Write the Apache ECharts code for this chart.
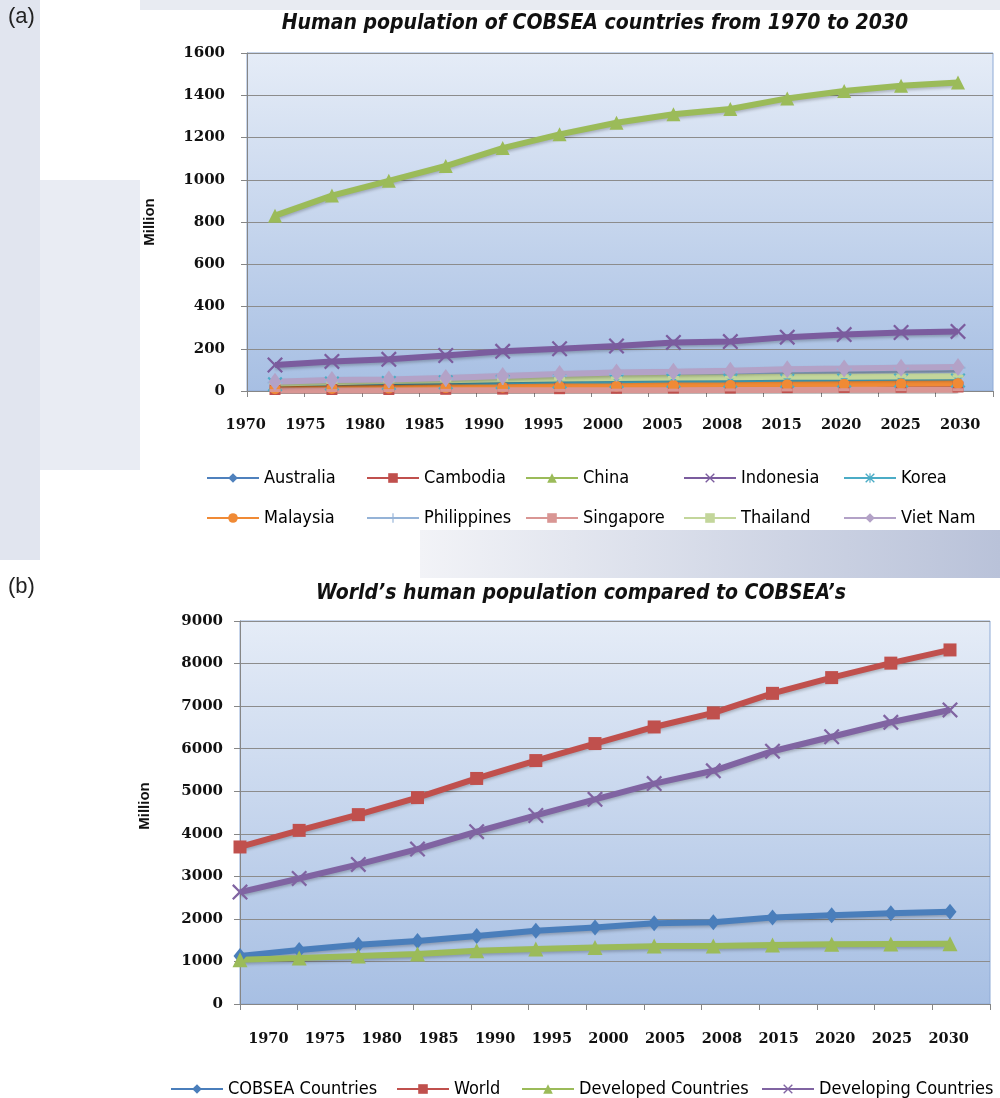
<!DOCTYPE html>
<html><head><meta charset="utf-8">
<script src="https://cdn.jsdelivr.net/npm/echarts@6/dist/echarts.min.js"></script>
<style>html,body{margin:0;padding:0;background:#fff}#c{width:1000px;height:1098px}</style>
</head><body><div id="c"></div>
<script>
// ---------- data ----------
const years = ['1970','1975','1980','1985','1990','1995','2000','2005','2008','2015','2020','2025','2030'];
const aTicks = [0,200,400,600,800,1000,1200,1400,1600];
const bTicks = [0,1000,2000,3000,4000,5000,6000,7000,8000,9000];

const australia   = [13, 14, 15, 16, 17, 18, 19, 20, 21, 24, 25, 27, 28];
const cambodia    = [7, 7, 7, 8, 9, 11, 13, 14, 14, 16, 17, 18, 19];
const china       = [830, 925, 995, 1065, 1150, 1215, 1270, 1310, 1335, 1385, 1420, 1445, 1460];
const indonesia   = [123, 140, 150, 168, 188, 200, 213, 230, 234, 255, 267, 277, 282];
const korea       = [32, 35, 38, 41, 43, 45, 47, 48, 48, 49, 50, 50, 50];
const malaysia    = [11, 12, 14, 16, 18, 21, 23, 26, 27, 30, 32, 34, 36];
const philippines = [40, 46, 50, 57, 64, 72, 80, 86, 90, 98, 103, 107, 110];
const singapore   = [2, 2, 2, 3, 3, 3, 4, 4, 5, 5, 6, 6, 6];
const thailand    = [36, 41, 47, 51, 56, 59, 62, 64, 65, 67, 68, 69, 70];
const vietnam     = [44, 52, 55, 62, 71, 80, 88, 91, 96, 103, 106, 110, 114];

const cobsea     = [1130, 1270, 1390, 1480, 1600, 1720, 1800, 1895, 1920, 2030, 2085, 2130, 2165];
const world      = [3690, 4080, 4450, 4850, 5300, 5720, 6120, 6510, 6840, 7300, 7670, 8010, 8320];
const developed  = [1040, 1080, 1130, 1175, 1250, 1290, 1330, 1360, 1365, 1385, 1405, 1410, 1415];
const developing = [2630, 2950, 3280, 3640, 4050, 4430, 4810, 5180, 5480, 5940, 6280, 6620, 6910];

// ---------- styling ----------
const NARROW = "'Liberation Sans Narrow','DejaVu Sans Condensed','Roboto Condensed',sans-serif";
const SERIF = "'DejaVu Serif',serif";
const SYM_X = 'path://M1,0L5,4L9,0L10,1L6,5L10,9L9,10L5,6L1,10L0,9L4,5L0,1Z';
const SYM_PLUS = 'path://M4.4,0H5.6V4.4H10V5.6H5.6V10H4.4V5.6H0V4.4H4.4Z';
const SYM_STAR = 'path://M1,0L5,4L9,0L10,1L6,5L10,9L9,10L5,6L1,10L0,9L4,5L0,1Z M4.4,0H5.6V10H4.4Z';

const plotBg = {type:'linear',x:0,y:0,x2:0,y2:1,colorStops:[{offset:0,color:'#e5ecf7'},{offset:1,color:'#a7bfe3'}]};

function frameAxisX(gi){return {type:'category',gridIndex:gi,data:years,boundaryGap:true,
  axisLine:{lineStyle:{color:'#868686',width:1}},axisTick:{show:true,length:6,lineStyle:{color:'#868686'}},
  axisLabel:{show:false},splitLine:{show:false}};}
function dataAxisX(gi){return {type:'category',gridIndex:gi,data:years,boundaryGap:false,show:false};}
function labelAxisX(gi,margin){return {type:'category',gridIndex:gi,data:years,boundaryGap:true,
  axisLine:{show:false},axisTick:{show:false},
  axisLabel:{show:true,margin:margin,fontFamily:SERIF,fontWeight:'bold',fontSize:14.5,color:'#111'},splitLine:{show:false}};}
function frameAxisY(gi,ticks,margin){return {type:'value',gridIndex:gi,min:ticks[0],max:ticks[ticks.length-1],interval:ticks[1]-ticks[0],
  axisLine:{show:true,lineStyle:{color:'#868686'}},axisTick:{show:true,length:6,lineStyle:{color:'#868686'}},
  axisLabel:{margin:margin,fontFamily:SERIF,fontWeight:'bold',fontSize:15,color:'#111',formatter:function(v){return String(v);}},
  splitLine:{show:true,lineStyle:{color:'#8c8c8c',width:1.2}}};}
function hiddenY(gi,ticks){return {type:'value',gridIndex:gi,min:ticks[0],max:ticks[ticks.length-1],show:false,splitLine:{show:false}};}

function mk(name,data,color,symbol,size,xi,yi,width){
  return {name:name,type:'line',data:data,xAxisIndex:xi,yAxisIndex:yi,
    symbol:symbol,symbolSize:size,showSymbol:true,
    lineStyle:{color:color,width:width||6,shadowColor:'rgba(0,0,0,0.22)',shadowBlur:3,shadowOffsetY:2},
    itemStyle:{color:color},emphasis:{disabled:true},animation:false};
}

const legText = {fontFamily:NARROW,fontSize:18,color:'#000'};
function legCol(left,top,items){return {orient:'vertical',left:left,top:top,itemGap:22,itemWidth:52,itemHeight:12,
  data:items,textStyle:legText,selectedMode:false};}

const option = {
  animation:false,
  backgroundColor:'#ffffff',
  title:[
    {text:'Human population of COBSEA countries from 1970 to 2030',left:590,top:8,textAlign:'center',
      textStyle:{fontFamily:NARROW,fontStyle:'italic',fontWeight:'bold',fontSize:21,color:'#111'}},
    {text:'World\u2019s human population compared to COBSEA\u2019s',left:576,top:578,textAlign:'center',
      textStyle:{fontFamily:NARROW,fontStyle:'italic',fontWeight:'bold',fontSize:21,color:'#111'}}
  ],
  graphic:[
    {type:'rect',z:-20,shape:{x:0,y:0,width:40,height:560},style:{fill:'#e1e5ef'}},
    {type:'rect',z:-20,shape:{x:40,y:180,width:100,height:290},style:{fill:'#e9ecf3'}},
    {type:'rect',z:-20,shape:{x:140,y:0,width:860,height:10},style:{fill:'#e8ebf2'}},
    {type:'rect',z:-20,shape:{x:420,y:530,width:580,height:48},
      style:{fill:{type:'linear',x:0,y:0,x2:1,y2:0,colorStops:[{offset:0,color:'#f2f3f7'},{offset:1,color:'#b9c2d9'}]}}},
    {type:'text',left:8,top:6,z:10,style:{text:'(a)',font:'22px "Liberation Sans", Arial, sans-serif',fill:'#222'}},
    {type:'text',left:8,top:576,z:10,style:{text:'(b)',font:'22px "Liberation Sans", Arial, sans-serif',fill:'#222'}},
    {type:'text',x:150,y:222,rotation:Math.PI/2,z:10,style:{text:'Million',font:'bold 15px "Liberation Sans", Arial, sans-serif',fill:'#111',align:'center',verticalAlign:'middle'}},
    {type:'text',x:145,y:806,rotation:Math.PI/2,z:10,style:{text:'Million',font:'bold 15px "Liberation Sans", Arial, sans-serif',fill:'#111',align:'center',verticalAlign:'middle'}}
  ],
  grid:[
    {left:247,top:53,width:746,height:338,show:true,backgroundColor:plotBg,borderColor:'#8eaad6',borderWidth:1},
    {left:275,top:53,width:683,height:338},
    {left:216,top:53,width:774,height:338},
    {left:240,top:621,width:750,height:383,show:true,backgroundColor:plotBg,borderColor:'#8eaad6',borderWidth:1},
    {left:240,top:621,width:710,height:383},
    {left:240,top:621,width:737,height:383}
  ],
  xAxis:[frameAxisX(0),dataAxisX(1),labelAxisX(2,27),frameAxisX(3),dataAxisX(4),labelAxisX(5,28)],
  yAxis:[frameAxisY(0,aTicks,22),hiddenY(1,aTicks),hiddenY(2,aTicks),frameAxisY(3,bTicks,17),hiddenY(4,bTicks),hiddenY(5,bTicks)],
  legend:[
    legCol(201,464,['Australia','Malaysia']),
    legCol(361,464,['Cambodia','Philippines']),
    legCol(520,464,['China','Singapore']),
    legCol(678,464,['Indonesia','Thailand']),
    legCol(838,464,['Korea','Viet Nam']),
    legCol(165,1075,['COBSEA Countries']),
    legCol(391,1075,['World']),
    legCol(516,1075,['Developed Countries']),
    legCol(756,1075,['Developing Countries'])
  ],
  series:[
    mk('Australia',australia,'#4F81BD','diamond',[11,13],1,1),
    mk('Cambodia',cambodia,'#C0504D','rect',11,1,1),
    mk('China',china,'#9BBB59','triangle',14,1,1),
    mk('Indonesia',indonesia,'#7B5C9E',SYM_X,16,1,1),
    mk('Korea',korea,'#4BACC6',SYM_STAR,15,1,1),
    mk('Malaysia',malaysia,'#F08A35','circle',11,1,1),
    mk('Philippines',philippines,'#95B3D7',SYM_PLUS,15,1,1),
    mk('Singapore',singapore,'#D99694','rect',[11,3],1,1),
    mk('Thailand',thailand,'#C3D69B','rect',[11,3],1,1),
    mk('Viet Nam',vietnam,'#B3A2C7','diamond',[13,18],1,1),
    mk('COBSEA Countries',cobsea,'#4A7EBB','diamond',[13,16],4,4),
    mk('World',world,'#C0504D','rect',13,4,4),
    mk('Developed Countries',developed,'#9BBB59','triangle',15,4,4),
    mk('Developing Countries',developing,'#8064A2',SYM_X,16,4,4)
  ]
};
const chart = echarts.init(document.getElementById('c'),null,{renderer:'canvas'});
chart.setOption(option);
</script></body></html>
